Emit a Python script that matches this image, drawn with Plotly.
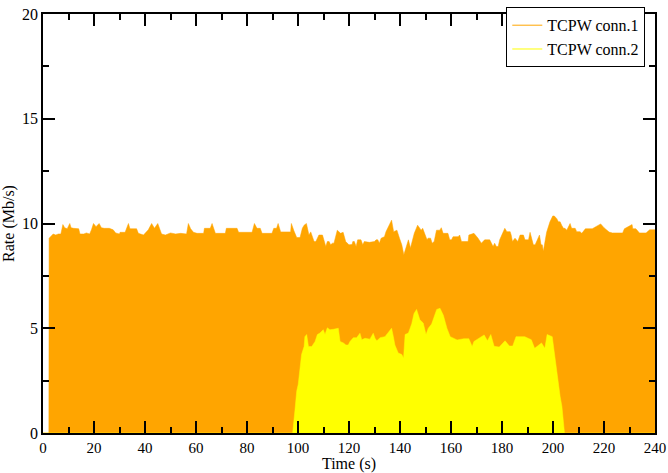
import plotly.graph_objects as go

# TCPW conn.1 (orange, drawn as top edge of orange area)
t1 = [0, 2.3, 2.4, 3.2, 4, 5, 6, 7, 7.8, 8.5, 9.5, 10.5, 11, 12, 13, 14, 14.5, 16, 17, 18.3, 19, 19.8, 20.8, 22, 22.9, 24, 26, 27.5, 28.5, 30,
      30.2, 32.2, 33.5, 34.1, 36.7, 37.4, 39.4, 40, 41.3, 42.6, 43.7, 45, 45.9, 46.5, 48, 50, 52, 54, 56.3, 57, 57.9, 59,
      60.4, 63, 63.3, 65.6, 66.3, 66.9, 67.6, 71.5, 71.9, 76.1, 76.7, 82, 82.9, 83.9, 85.2, 85.9, 89.8, 90.5,
      91.6, 92.2, 93.2, 97.1, 97.4, 98.4, 99.5, 100.8, 101.7, 102.4, 103.3, 104.3, 105, 106.3, 107, 108.2, 109.6, 110.9, 111.5, 112.2,
      112.8, 113.5, 114.1, 115.4, 116.7, 117.7, 118.7, 120, 121.2,
      121.5, 122.1, 122.8, 123.4, 124.7, 125.4, 126, 128, 130, 130.6, 131.3, 131.9, 132.6, 133.9, 134.5, 135.2, 136.7, 137.5, 138.8,
      139.8, 140.7, 141.5, 142.4, 143.3, 144.1, 145, 145.6, 146.9, 148.3, 148.9, 149.8, 150.6,
      151, 152, 152.6, 153.4, 154.3, 155.6, 156.2, 156.9, 158.8, 159.5, 160.2, 160.8, 162.8, 163.4, 164.1, 166.7, 167, 169, 170.6,
      171.9, 173.2, 175.2, 176.5, 177.1, 177.8, 178.5, 179.1, 181.1,
      181.9, 183.2, 183.6, 184.1, 185.1, 186.2, 187.1, 188.4, 189, 190.4, 191, 192.3, 193, 194, 194.7, 195.3, 195.8, 196.2, 197.1,
      197.5, 198.8, 199.9, 200.5, 201.5, 202.1, 202.8, 203.4, 204.1, 204.7, 205.4, 206.7, 207.3, 208.7, 209.3, 210.6, 211.3,
      212.7, 215.4, 218.7, 220, 222, 223.3, 227.3, 228, 231, 231.3, 232.5, 233.9, 236.5, 237.9, 240]
r1 = [0, 0, 9.3, 9.4, 9.5, 9.45, 9.5, 9.5, 9.95, 9.8, 9.75, 10.0, 9.8, 9.77, 9.77, 9.75, 9.5, 9.5, 9.55, 9.5, 9.7, 10.0, 9.85, 10.0, 9.8, 9.77, 9.77, 9.7, 9.55, 9.5,
      9.58, 9.58, 10.0, 9.75, 9.75, 9.53, 9.45, 9.53, 9.7, 10.0, 9.77, 10.0, 9.7, 9.5, 9.45, 9.55, 9.5, 9.53, 9.5, 10.0, 9.75, 9.58,
      9.53, 9.53, 9.77, 9.77, 10.0, 9.8, 9.53, 9.53, 9.77, 9.77, 9.58, 9.58, 10.0, 9.77, 9.77, 9.53, 9.53, 9.77,
      9.77, 10.0, 9.6, 9.6, 10.0, 9.65, 9.33, 9.33, 9.77, 9.92, 10.0, 9.45, 9.6, 9.14, 9.14, 9.45, 9.45, 8.9, 9.14, 9.14,
      8.98, 9.06, 9.06, 9.68, 9.53, 9.58, 9.14, 8.98, 9.0,
      9.14, 9.14, 8.9, 9.22, 9.22, 8.98, 9.14, 9.1, 9.14, 9.22, 9.22, 9.06, 9.3, 9.37, 9.61, 9.77, 10.16, 9.61, 9.68,
      9.3, 8.98, 8.51, 8.83, 9.22, 8.83, 9.3, 9.53, 9.92, 9.68, 9.77, 9.45, 9.22,
      9.3, 9.3, 9.06, 9.14, 9.68, 9.68, 9.8, 9.53, 9.53, 9.22, 9.22, 9.37, 9.37, 9.45, 9.14, 9.14, 9.45, 9.53, 9.3,
      9.06, 9.22, 9.22, 8.9, 9.06, 8.9, 8.9, 9.22, 9.77,
      9.61, 9.61, 9.45, 9.14, 9.3, 9.14, 9.45, 9.45, 9.22, 9.22, 9.58, 8.98, 8.98, 9.22, 9.45, 8.98, 8.98, 8.67, 9.45,
      9.58, 10.08, 10.36, 10.36, 10.23, 10.08, 10.08, 9.92, 9.77, 9.77, 9.68, 10.0, 9.77, 9.77, 9.61, 9.61, 9.53,
      9.75, 9.75, 9.98, 9.8, 9.59, 9.55, 9.55, 9.75, 9.95, 9.75, 9.75, 9.55, 9.55, 9.7, 9.7]

# TCPW conn.2 (yellow)
t2 = [0, 97.9, 98.8, 99.5, 100.1, 100.8, 101.4, 102.4, 102.7, 103.4, 104.1, 105.4, 106.7, 107.6, 108.6, 109.9, 110.6, 111.5,
      112.5, 113.9, 115.8, 116.5, 117.8, 118.8, 119.7, 120.4, 121.7, 123, 124.3, 125, 126.3, 128.2, 129.5, 130.2, 130.9, 132.2,
      134.1, 135.4, 136.7, 137.4, 138, 139.3, 140.7, 141.4, 142, 143.3, 144.6, 145.5, 146.5, 147.8, 149.1, 150.2, 151.1, 152.4,
      154.4, 155.7, 157, 158.4, 159.7, 162.4, 165, 167, 168.3, 169, 173, 174.3, 175.6, 176.9, 178.9, 181.2, 182.9, 184.2, 185.5,
      188.9, 191.5, 192.8, 195.5, 196.8, 197.7, 199.7, 200.5, 201.1, 202.1, 202.8, 203.5, 204.1, 204.5, 240]
r2 = [0, 0, 1.08, 2.0, 2.33, 3.1, 3.75, 4.13, 4.6, 4.7, 4.13, 4.13, 4.37, 4.7, 4.77, 4.93, 4.7, 5.02,
      4.93, 4.95, 5.0, 4.37, 4.3, 4.2, 4.2, 4.37, 4.55, 4.55, 4.76, 4.45, 4.52, 4.48, 4.76, 4.52, 4.4, 4.55,
      4.6, 4.8, 5.0, 4.6, 4.2, 3.82, 3.75, 3.58, 4.7, 4.77, 5.22, 5.7, 5.9, 5.4, 5.25, 4.7, 5.0, 5.2,
      5.9, 5.95, 5.62, 5.0, 4.6, 4.44, 4.5, 4.5, 4.13, 4.37, 4.68, 4.4, 4.7, 4.14, 4.1, 4.4, 4.15, 4.15, 4.6,
      4.6, 4.45, 4.04, 4.3, 4.04, 4.7, 4.6, 3.8, 3.17, 2.38, 1.74, 1.27, 0.63, 0, 0]

names = ["TCPW conn.1", "TCPW conn.2"]
colors = ["#FFA500", "#FFFF00"]

FONT = "Liberation Serif, Times New Roman, serif"

fig = go.Figure()
fig.add_trace(go.Scatter(x=t1, y=r1, mode="lines", fill="tozeroy", fillcolor=colors[0],
                         line=dict(color=colors[0], width=0.5), showlegend=False, hoverinfo="skip"))
fig.add_trace(go.Scatter(x=t2, y=r2, mode="lines", fill="tozeroy", fillcolor=colors[1],
                         line=dict(color=colors[1], width=0.5), showlegend=False, hoverinfo="skip"))
for n, c in zip(names, colors):
    fig.add_trace(go.Scatter(x=[None], y=[None], mode="lines", line=dict(color=c, width=1), name=n))

axis_common = dict(showline=True, linecolor="black", linewidth=1.5, mirror="allticks",
                   ticks="inside", ticklen=12, tickwidth=1.5, tickcolor="black",
                   showgrid=False, zeroline=False, automargin=False)

fig.update_xaxes(range=[0, 240], dtick=20, tickfont=dict(family=FONT, size=15, color="black"),
                 title=dict(text="Time (s)", font=dict(family=FONT, size=16, color="black"), standoff=3),
                 minor=dict(ticks="inside", ticklen=6, dtick=10, tickwidth=1.5, tickcolor="black"), **axis_common)
fig.update_yaxes(range=[0, 20], dtick=5, tickfont=dict(family=FONT, size=16, color="black"),
                 title=dict(text="Rate (Mb/s)", font=dict(family=FONT, size=16, color="black"), standoff=4),
                 minor=dict(ticks="inside", ticklen=6, dtick=2.5, tickwidth=1.5, tickcolor="black"), **axis_common)

fig.update_layout(
    width=668, height=473,
    margin=dict(l=43, r=13, t=7, b=40),
    plot_bgcolor="white", paper_bgcolor="white",
    font=dict(family=FONT, size=16, color="black"),
    legend=dict(x=0.757, y=1.016, xanchor="left", yanchor="top",
                bgcolor="white", bordercolor="black", borderwidth=1,
                font=dict(family=FONT, size=16, color="black"),
                tracegroupgap=0, itemwidth=30),
)

fig.write_html("out.html", config={"displayModeBar": False},
               post_script="document.body.style.margin='0';document.body.style.overflow='hidden';")
